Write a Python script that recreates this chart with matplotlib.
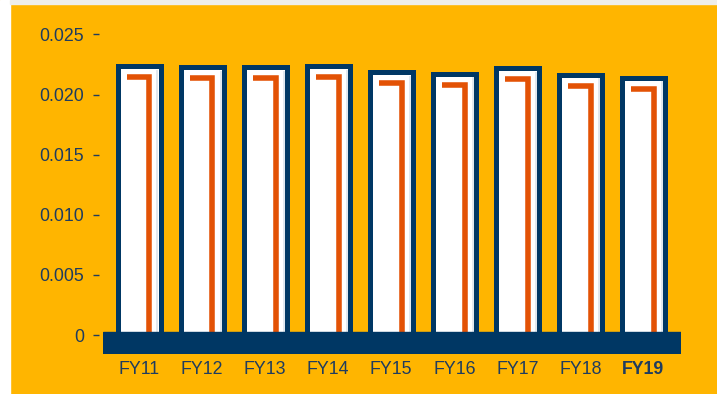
import matplotlib

matplotlib.use("Agg")
import matplotlib.pyplot as plt
from matplotlib.patches import Rectangle
import numpy as np

years = ["FY11", "FY12", "FY13", "FY14", "FY15", "FY16", "FY17", "FY18", "FY19"]
navy_values = [0.02238, 0.02229, 0.02227, 0.02235, 0.02188, 0.02173, 0.02221, 0.02165, 0.02140]
orange_values = [0.02142, 0.02138, 0.02138, 0.02150, 0.02092, 0.02081, 0.02128, 0.02067, 0.02044]
y_ticks = [0, 0.005, 0.010, 0.015, 0.020, 0.025]
y_tick_labels = ["0", "0.005", "0.010", "0.015", "0.020", "0.025"]

NAVY = "#003764"
ORANGE = "#E35205"
BG = "#FFB500"
TEXT = "#1F3C5F"

fig = plt.figure(figsize=(7.17, 3.94), dpi=100, facecolor=BG)
# white margin on the left and a thin grey strip on top (outside the axes)
fig.patches.append(Rectangle((0, 0), 10 / 717, 1, transform=fig.transFigure,
                             color="white", zorder=-5))
fig.patches.append(Rectangle((10 / 717, 390 / 394), 1 - 10 / 717, 4 / 394,
                             transform=fig.transFigure, color="#EEEEEA", zorder=-5))

ax = fig.add_axes([103 / 717, 40 / 394, 578 / 717, 334 / 394])
ax.set_facecolor("none")
x = np.arange(len(years))

ax.bar(x, navy_values, width=0.682, color="white", edgecolor=NAVY,
       linewidth=3.6, zorder=2)

# faint inner shading on the right side of each bar
for xi, v in zip(x, navy_values):
    ax.plot([xi + 0.682 / 2 - 0.048] * 2, [0, v - 0.0003], color="#DCE4EC",
            linewidth=1.2, zorder=2.5, solid_capstyle="butt")

# orange corner marks
for xi, v in zip(x, orange_values):
    ax.plot([xi - 0.19, xi + 0.165, xi + 0.165], [v, v, 0], color=ORANGE,
            linewidth=4.0, solid_joinstyle="miter", solid_capstyle="butt", zorder=3)

ax.set_xlim(-0.571, 8.595)
ax.set_ylim(-0.00158, 0.0262)
ax.axhspan(-0.00158, 0.00025, color=NAVY, zorder=4)

for s in ["top", "right", "bottom"]:
    ax.spines[s].set_visible(False)
ax.spines["left"].set_position(("outward", 3))
ax.spines["left"].set_visible(False)

ax.set_yticks(y_ticks)
ax.set_yticklabels(y_tick_labels)
ax.tick_params(axis="y", length=4, width=1.0, color=TEXT, pad=6.5,
               labelsize=12.8, labelcolor=TEXT)
ax.set_xticks(x)
ax.set_xticklabels(years)
ax.tick_params(axis="x", length=0, pad=5, labelsize=12.8, labelcolor=TEXT)
ax.get_xticklabels()[-1].set_fontweight("bold")
for lbl in ax.get_xticklabels() + ax.get_yticklabels():
    lbl.set_fontfamily(["Liberation Sans", "DejaVu Sans"])

fig.savefig("out.png", dpi=100, facecolor=fig.get_facecolor())
